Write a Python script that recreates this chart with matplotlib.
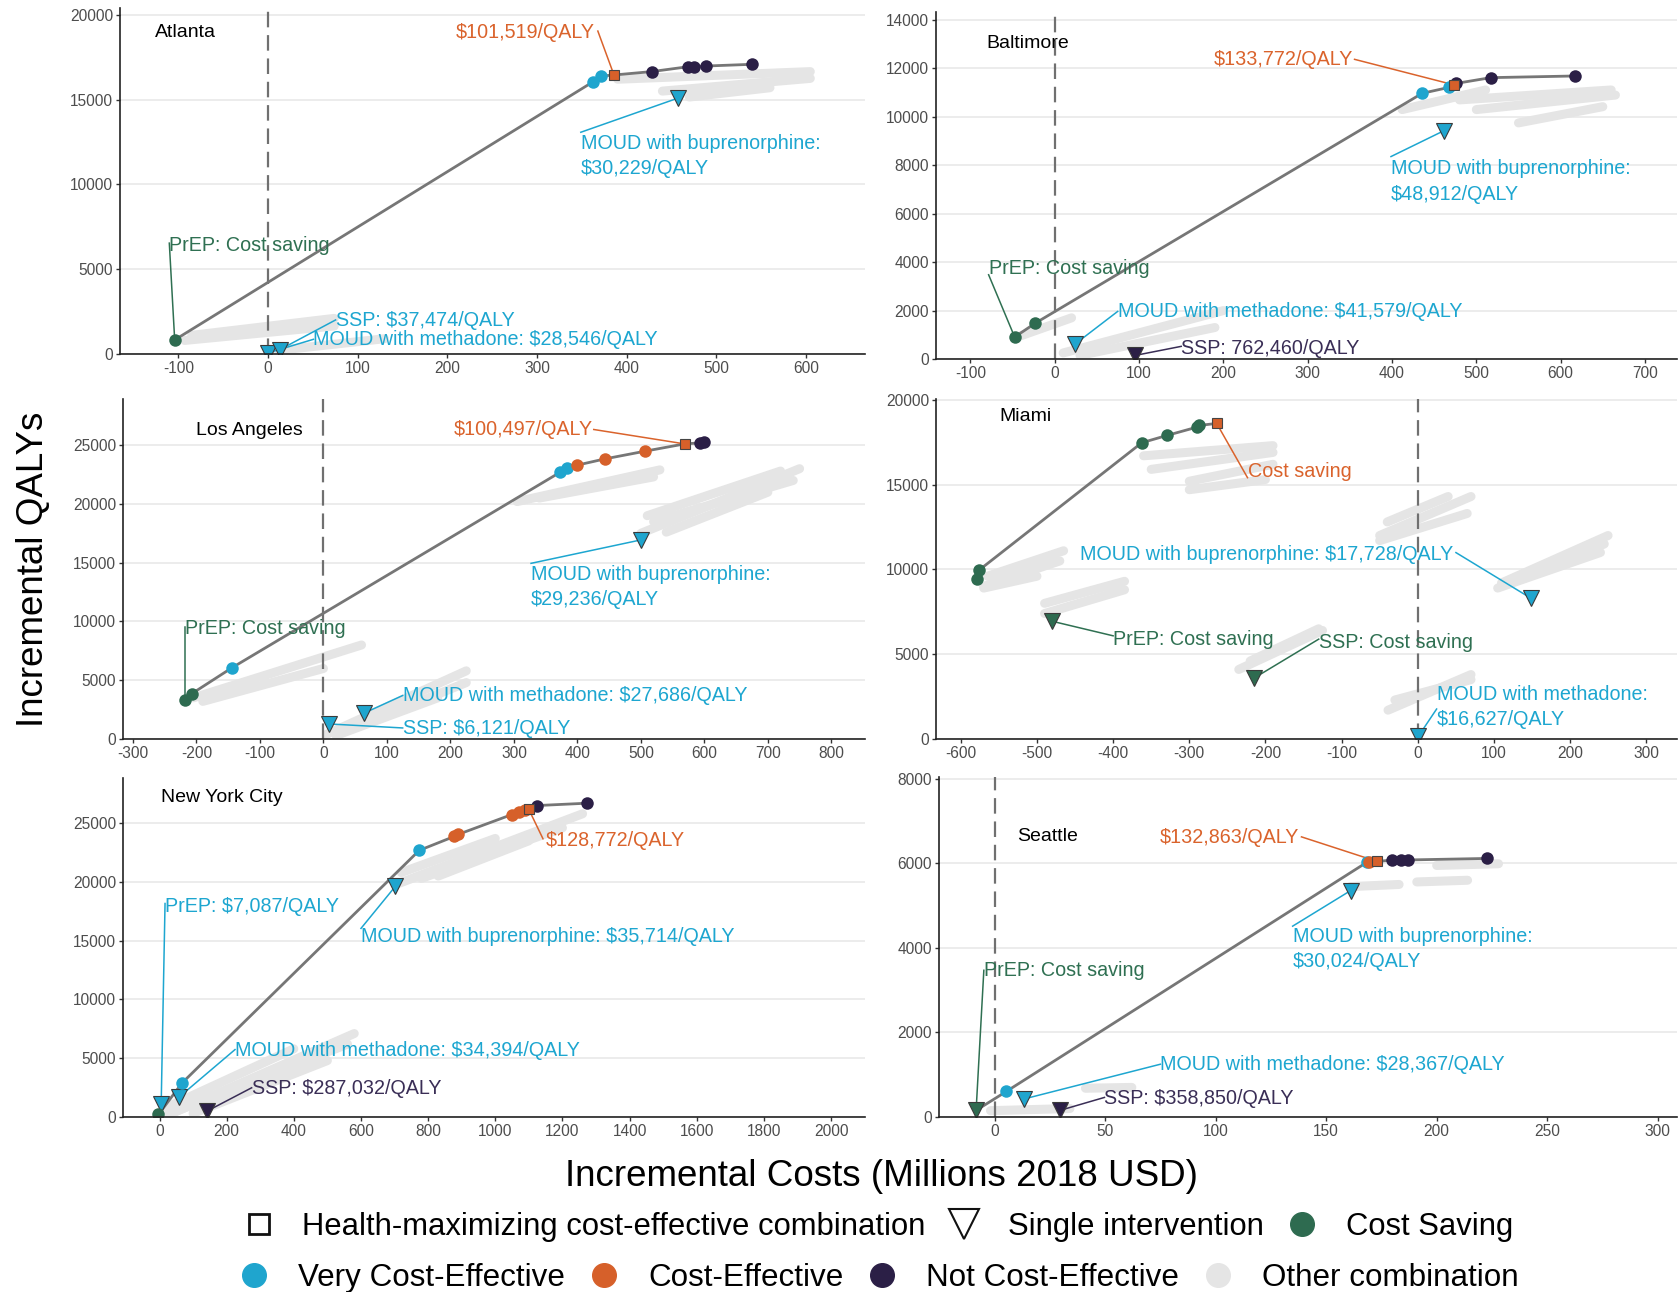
import matplotlib
matplotlib.use("Agg")
import matplotlib.pyplot as plt
from matplotlib.lines import Line2D

plt.rcParams["font.family"] = ["Liberation Sans", "DejaVu Sans"]
plt.rcParams["axes.unicode_minus"] = False

# ---------------------------------------------------------------- data
# Combinations on the efficiency frontier (circles), per city
ATL_COMBO_X = [-104, 363, 372, 428, 469, 475, 489, 540]
ATL_COMBO_Y = [830, 16060, 16390, 16650, 16940, 16940, 16980, 17080]
ATL_COMBO_CAT = ["cs", "vce", "vce", "nce", "nce", "nce", "nce", "nce"]
ATL_BEST = [386, 16450]
ATL_SINGLE_NAME = ["MOUD with buprenorphine", "MOUD with methadone", "SSP"]
ATL_SINGLE_X = [457, 0, 13]
ATL_SINGLE_Y = [15080, 60, 250]
ATL_SINGLE_CAT = ["vce", "vce", "vce"]
ATL_ICER = {"best": "$101,519/QALY", "PrEP": "Cost saving",
            "MOUD with buprenorphine": "$30,229/QALY",
            "SSP": "$37,474/QALY", "MOUD with methadone": "$28,546/QALY"}
ATL_OTHER = [(-93, 800, 74, 1650), (-85, 1100, 74, 2100), (0, 150, 130, 900),
             (390, 16200, 605, 16650), (440, 15500, 605, 16250), (470, 15150, 560, 15700)]

BAL_COMBO_X = [-47.5, -22.8, 435.8, 468, 476, 517, 617]
BAL_COMBO_Y = [907, 1485, 10972, 11220, 11380, 11619, 11688]
BAL_COMBO_CAT = ["cs", "cs", "vce", "vce", "nce", "nce", "nce"]
BAL_BEST = [474, 11316]
BAL_SINGLE_NAME = ["MOUD with buprenorphine", "MOUD with methadone", "SSP"]
BAL_SINGLE_X = [461.7, 23.5, 95.7]
BAL_SINGLE_Y = [9430, 600, 150]
BAL_SINGLE_CAT = ["vce", "vce", "nce"]
BAL_ICER = {"best": "$133,772/QALY", "PrEP": "Cost saving",
            "MOUD with buprenorphine": "$48,912/QALY",
            "MOUD with methadone": "$41,579/QALY", "SSP": "762,460/QALY"}
BAL_OTHER = [(412, 10300, 511, 11110), (480, 10700, 660, 11110), (500, 10300, 665, 10900),
             (550, 9750, 650, 10420), (-45, 900, 20, 1700), (10, 250, 200, 2000),
             (30, 150, 190, 1300)]

LA_COMBO_X = [-218, -207.7, -144, 372.6, 384, 398.8, 443, 506, 593, 600]
LA_COMBO_Y = [3331, 3843, 6064, 22690, 23060, 23290, 23830, 24484, 25196, 25250]
LA_COMBO_CAT = ["cs", "cs", "vce", "vce", "vce", "ce", "ce", "ce", "nce", "nce"]
LA_BEST = [569, 25110]
LA_SINGLE_NAME = ["MOUD with buprenorphine", "MOUD with methadone", "SSP"]
LA_SINGLE_X = [500, 63.7, 8.7]
LA_SINGLE_Y = [16940, 2192, 1281]
LA_SINGLE_CAT = ["vce", "vce", "vce"]
LA_ICER = {"best": "$100,497/QALY", "PrEP": "Cost saving",
           "MOUD with buprenorphine": "$29,236/QALY",
           "MOUD with methadone": "$27,686/QALY", "SSP": "$6,121/QALY"}
LA_OTHER = [(-205, 3500, 60, 8000), (-190, 3200, 0, 6000), (5, 400, 225, 5800),
            (20, 300, 180, 3500), (60, 1200, 225, 4800), (305, 20200, 530, 22900),
            (340, 20500, 520, 22300), (500, 17500, 750, 23000), (520, 18500, 740, 22000),
            (540, 17600, 700, 21000), (510, 19000, 720, 22800)]

MIA_COMBO_X = [-579, -575.7, -362.4, -329.4, -290, -287]
MIA_COMBO_Y = [9422, 9970, 17470, 17900, 18390, 18490]
MIA_COMBO_CAT = ["cs", "cs", "cs", "cs", "cs", "cs"]
MIA_BEST = [-264, 18610]
MIA_SINGLE_NAME = ["PrEP", "SSP", "MOUD with buprenorphine", "MOUD with methadone"]
MIA_SINGLE_X = [-480.7, -214.6, 148.6, 0.7]
MIA_SINGLE_Y = [6950, 3600, 8303, 150]
MIA_SINGLE_CAT = ["cs", "cs", "vce", "vce"]
MIA_ICER = {"best": "Cost saving", "PrEP": "Cost saving", "SSP": "Cost saving",
            "MOUD with buprenorphine": "$17,728/QALY",
            "MOUD with methadone": "$16,627/QALY"}
MIA_OTHER = [(-360, 16700, -190, 17300), (-350, 15900, -190, 16900), (-300, 15200, -190, 16200),
             (-300, 14700, -200, 15300), (-570, 9000, -470, 10500), (-565, 9600, -465, 11100),
             (-570, 8900, -500, 9600), (-490, 7400, -385, 8800), (-490, 8000, -385, 9300),
             (-50, 12000, 70, 14300), (-50, 11700, 65, 13300), (-40, 12800, 40, 14300),
             (110, 9200, 250, 12000), (105, 8900, 240, 11000), (140, 9500, 245, 11500),
             (-235, 4100, -125, 6400), (-220, 4600, -130, 6500),
             (-39, 1700, 70, 3800), (-30, 2300, 70, 3500)]

NYC_COMBO_X = [-3, 67.8, 773.5, 877.7, 889, 1049.6, 1071, 1087.6, 1125.6, 1274]
NYC_COMBO_Y = [226, 2910, 22685, 23870, 24040, 25735, 25930, 26130, 26500, 26700]
NYC_COMBO_CAT = ["cs", "vce", "vce", "ce", "ce", "ce", "ce", "ce", "nce", "nce"]
NYC_BEST = [1099, 26220]
NYC_SINGLE_NAME = ["PrEP", "MOUD with methadone", "SSP", "MOUD with buprenorphine"]
NYC_SINGLE_X = [5, 59.5, 142, 702.5]
NYC_SINGLE_Y = [1073, 1723, 508, 19630]
NYC_SINGLE_CAT = ["vce", "vce", "nce", "vce"]
NYC_ICER = {"best": "$128,772/QALY", "PrEP": "$7,087/QALY",
            "MOUD with buprenorphine": "$35,714/QALY",
            "MOUD with methadone": "$34,394/QALY", "SSP": "$287,032/QALY"}
NYC_OTHER = [(20, 100, 580, 7100), (50, 500, 560, 6200), (100, 300, 500, 4800),
             (20, 800, 400, 5800), (715, 19900, 1260, 25800), (780, 20300, 1200, 24600),
             (830, 20500, 1100, 23500), (720, 20800, 1000, 23700)]

SEA_COMBO_X = [5.2, 168.3, 169.5, 180, 184, 187, 223]
SEA_COMBO_Y = [605, 6022, 6037, 6077, 6077, 6080, 6116]
SEA_COMBO_CAT = ["vce", "vce", "ce", "nce", "nce", "nce", "nce"]
SEA_BEST = [173, 6045]
SEA_SINGLE_NAME = ["PrEP", "MOUD with methadone", "SSP", "MOUD with buprenorphine"]
SEA_SINGLE_X = [-8.5, 13, 29.5, 161]
SEA_SINGLE_Y = [157, 424, 157, 5354]
SEA_SINGLE_CAT = ["cs", "vce", "nce", "vce"]
SEA_ICER = {"best": "$132,863/QALY", "PrEP": "Cost saving",
            "MOUD with buprenorphine": "$30,024/QALY",
            "MOUD with methadone": "$28,367/QALY", "SSP": "$358,850/QALY"}
SEA_OTHER = [(161, 5450, 183, 5500), (191, 5560, 214, 5600), (200, 5950, 228, 5990),
             (-2, 150, 34, 200), (41, 680, 62, 700)]

# ---------------------------------------------------------------- styling
COLORS = {"cs": "#2E6B50", "vce": "#1FA5CE", "ce": "#D6602A",
          "nce": "#2B1F46", "other": "#E5E5E5"}
TEXT_COLORS = {"cs": "#2F7052", "vce": "#1DA6D0", "ce": "#DA632C", "nce": "#3A2E56"}
LINE_GREY = "#767676"

W, H = 1679, 1292

# panel layout: pixel box (left, right, top, bottom), limits, ticks, title pos
CITIES = [
    dict(name="Atlanta", combo=(ATL_COMBO_X, ATL_COMBO_Y, ATL_COMBO_CAT), best=ATL_BEST,
         single=(ATL_SINGLE_NAME, ATL_SINGLE_X, ATL_SINGLE_Y, ATL_SINGLE_CAT),
         icer=ATL_ICER, other=ATL_OTHER, frontier_single=None, zero_line=True,
         box=(120, 865, 8, 354), xlim=(-165, 666), ylim=(0, 20400),
         xticks=range(-100, 601, 100), yticks=range(0, 20001, 5000), title=(0.047, 0.93),
         labels=[("best", 210, 18940, 368, 19040, False),
                 ("MOUD with buprenorphine", 349, 11676, 349, 13074, True),
                 ("PrEP", -110, 6380, -110, 6537, False),
                 ("SSP", 75.5, 1950, 75.5, 2008, False),
                 ("MOUD with methadone", 50.8, 827, 50.8, 866, False)]),
    dict(name="Baltimore", combo=(BAL_COMBO_X, BAL_COMBO_Y, BAL_COMBO_CAT), best=BAL_BEST,
         single=(BAL_SINGLE_NAME, BAL_SINGLE_X, BAL_SINGLE_Y, BAL_SINGLE_CAT),
         icer=BAL_ICER, other=BAL_OTHER, frontier_single=None, zero_line=True,
         box=(936, 1677, 12, 359), xlim=(-140.8, 738), ylim=(0, 14330),
         xticks=range(-100, 701, 100), yticks=range(0, 14001, 2000), title=(0.0675, 0.908),
         labels=[("best", 188.9, 12375, 355.6, 12375, False),
                 ("MOUD with buprenorphine", 398.8, 7342, 398.8, 8360, True),
                 ("PrEP", -78.4, 3754, -78.4, 3479, False),
                 ("MOUD with methadone", 74.7, 1966, 74.7, 1966, False),
                 ("SSP", 150, 454, 150, 522, False)]),
    dict(name="Los Angeles", combo=(LA_COMBO_X, LA_COMBO_Y, LA_COMBO_CAT), best=LA_BEST,
         single=(LA_SINGLE_NAME, LA_SINGLE_X, LA_SINGLE_Y, LA_SINGLE_CAT),
         icer=LA_ICER, other=LA_OTHER, frontier_single=None, zero_line=True,
         box=(123, 865, 399, 739), xlim=(-315.7, 853), ylim=(0, 28930),
         xticks=range(-300, 801, 100), yticks=range(0, 25001, 5000), title=(0.098, 0.907),
         labels=[("best", 205, 26335, 425.8, 26335, False),
                 ("MOUD with buprenorphine", 327, 12925, 327, 14947, True),
                 ("PrEP", -218, 9395, -218, 9537, False),
                 ("MOUD with methadone", 124.8, 3701, 124.8, 3701, False),
                 ("SSP", 124.8, 854, 124.8, 940, False)]),
    dict(name="Miami", combo=(MIA_COMBO_X, MIA_COMBO_Y, MIA_COMBO_CAT), best=MIA_BEST,
         single=(MIA_SINGLE_NAME, MIA_SINGLE_X, MIA_SINGLE_Y, MIA_SINGLE_CAT),
         icer=MIA_ICER, other=MIA_OTHER, frontier_single=None, zero_line=True,
         box=(936, 1677, 399, 739), xlim=(-632.6, 340.5), ylim=(0, 20050),
         xticks=range(-600, 301, 100), yticks=range(0, 20001, 5000), title=(0.085, 0.948),
         labels=[("best", -223.5, 15763, -223.5, 15410, False),
                 ("MOUD with buprenorphine", -443, 10855, 50.2, 10993, False),
                 ("PrEP", -400, 5889, -400, 6085, False),
                 ("SSP", -130, 5693, -130, 5889, False),
                 ("MOUD with methadone", 24.8, 1885, 24.8, 1767, True)]),
    dict(name="New York City", combo=(NYC_COMBO_X, NYC_COMBO_Y, NYC_COMBO_CAT), best=NYC_BEST,
         single=(NYC_SINGLE_NAME, NYC_SINGLE_X, NYC_SINGLE_Y, NYC_SINGLE_CAT),
         icer=NYC_ICER, other=NYC_OTHER, frontier_single=None, zero_line=False,
         box=(123, 865, 778, 1117), xlim=(-108.7, 2101), ylim=(0, 28843),
         xticks=range(0, 2001, 200), yticks=range(0, 25001, 5000), title=(0.0507, 0.943),
         labels=[("best", 1150, 23532, 1142, 23673, False),
                 ("PrEP", 16.5, 17882, 16.5, 18165, False),
                 ("MOUD with buprenorphine", 600, 15340, 600, 16046, False),
                 ("MOUD with methadone", 224.8, 5678, 224.8, 5735, False),
                 ("SSP", 274.4, 2401, 274.4, 2486, False)]),
    dict(name="Seattle", combo=(SEA_COMBO_X, SEA_COMBO_Y, SEA_COMBO_CAT), best=SEA_BEST,
         single=(SEA_SINGLE_NAME, SEA_SINGLE_X, SEA_SINGLE_Y, SEA_SINGLE_CAT),
         icer=SEA_ICER, other=SEA_OTHER, frontier_single="PrEP", zero_line=True,
         box=(939, 1677, 777, 1117), xlim=(-25.3, 308.8), ylim=(0, 8042),
         xticks=range(0, 301, 50), yticks=range(0, 8001, 2000), title=(0.106, 0.825),
         labels=[("best", 74.5, 6610, 138.8, 6626, False),
                 ("MOUD with buprenorphine", 134.8, 3972, 134.8, 4514, True),
                 ("PrEP", -5, 3470, -5, 3470, False),
                 ("MOUD with methadone", 74.9, 1248, 74.9, 1248, False),
                 ("SSP", 49.6, 447, 49.6, 463, False)]),
]


def resolve(city, key):
    """Return (point, category, text) for a labelled mark."""
    if key == "best":
        return tuple(city["best"]), "ce", city["icer"]["best"]
    names, sx, sy, scat = city["single"]
    text = f"{key}: {city['icer'][key]}"
    if key in names:
        i = names.index(key)
        return (sx[i], sy[i]), scat[i], text
    cx, cy, ccat = city["combo"]
    return (cx[0], cy[0]), ccat[0], text


fig = plt.figure(figsize=(W / 100, H / 100), dpi=100)

for city in CITIES:
    l, r, t, b = city["box"]
    ax = fig.add_axes([l / W, 1 - b / H, (r - l) / W, (b - t) / H])
    ax.set_xlim(*city["xlim"])
    ax.set_ylim(*city["ylim"])
    ax.set_xticks(list(city["xticks"]))
    ax.set_yticks(list(city["yticks"]))
    for s in ("top", "right"):
        ax.spines[s].set_visible(False)
    for s in ("left", "bottom"):
        ax.spines[s].set_color("#222222")
        ax.spines[s].set_linewidth(1.2)
        ax.spines[s].set_zorder(9)
    ax.tick_params(axis="both", labelsize=11.2, labelcolor="#4D4D4D", color="#333333",
                   length=3, width=1, pad=2)
    ax.yaxis.grid(True, color="#EBEBEB", lw=1.3, zorder=0)
    ax.set_axisbelow(True)

    # other (dominated) combinations
    for x0, y0, x1, y1 in city["other"]:
        ax.plot([x0, x1], [y0, y1], color=COLORS["other"], lw=6.5,
                solid_capstyle="round", zorder=1)

    if city["zero_line"]:
        ax.axvline(0, color="#707070", lw=1.6, ls=(0, (7, 3.5)), zorder=2)

    # efficiency frontier
    cx, cy, ccat = city["combo"]
    pts = list(zip(cx, cy)) + [tuple(city["best"])]
    if city["frontier_single"]:
        names, sx, sy, _ = city["single"]
        i = names.index(city["frontier_single"])
        pts.append((sx[i], sy[i]))
    pts.sort()
    ax.plot([p[0] for p in pts], [p[1] for p in pts], color=LINE_GREY, lw=2.0,
            zorder=3, solid_capstyle="round")

    # labels with leader segments
    for key, tx, ty, sx0, sy0, wrap in city["labels"]:
        (px, py), cat, text = resolve(city, key)
        if wrap:
            text = text.replace(": ", ":\n", 1)
        col = TEXT_COLORS[cat]
        ax.plot([sx0, px], [sy0, py], color=col, lw=1.1, zorder=4, clip_on=False)
        ax.text(tx, ty, text, color=col, fontsize=14.2, ha="left", va="center",
                zorder=8, linespacing=1.45)

    # single interventions
    names, sx, sy, scat = city["single"]
    for x, y, c in zip(sx, sy, scat):
        ax.plot(x, y, marker="v", ms=11.5, mfc=COLORS[c], mec="#3A3A3A", mew=0.8,
                ls="none", zorder=5)

    # combinations on the frontier
    for x, y, c in zip(cx, cy, ccat):
        ax.plot(x, y, marker="o", ms=9, mfc=COLORS[c], mec=COLORS[c], mew=0,
                ls="none", zorder=6)
    ax.plot(city["best"][0], city["best"][1], marker="s", ms=7.5, mfc=COLORS["ce"],
            mec="#444444", mew=0.8, ls="none", zorder=7)

    ax.text(city["title"][0], city["title"][1], city["name"], transform=ax.transAxes,
            fontsize=14, color="black", ha="left", va="center", zorder=8)

fig.text(34 / W, 1 - 569 / H, "Incremental QALYs", rotation=90, fontsize=26.5,
         ha="center", va="center")
fig.text(881 / W, 1 - 1177 / H, "Incremental Costs (Millions 2018 USD)", fontsize=26.5,
         ha="center", va="center")

row1 = [Line2D([], [], marker="s", ms=15, mfc="white", mec="#111111", mew=2, ls="none"),
        Line2D([], [], marker="v", ms=22, mfc="white", mec="#111111", mew=1.5, ls="none"),
        Line2D([], [], marker="o", ms=17, mfc=COLORS["cs"], mec=COLORS["cs"], ls="none")]
row1_lab = ["Health-maximizing cost-effective combination", "Single intervention", "Cost Saving"]
row2 = [Line2D([], [], marker="o", ms=17, mfc=COLORS[k], mec=COLORS[k], ls="none")
        for k in ("vce", "ce", "nce", "other")]
row2_lab = ["Very Cost-Effective", "Cost-Effective", "Not Cost-Effective", "Other combination"]

common = dict(loc="center", frameon=False, handlelength=1.0,
              handletextpad=0.9, columnspacing=0.75, borderpad=0, borderaxespad=0)
fig.legend(row1, row1_lab, ncol=3, fontsize=22.3,
           bbox_to_anchor=(0.523, 1 - 1227 / H), **common)
fig.legend(row2, row2_lab, ncol=4, fontsize=22.6,
           bbox_to_anchor=(0.5233, 1 - 1278 / H), **common)

fig.savefig("out.png", dpi=100, facecolor="white")
